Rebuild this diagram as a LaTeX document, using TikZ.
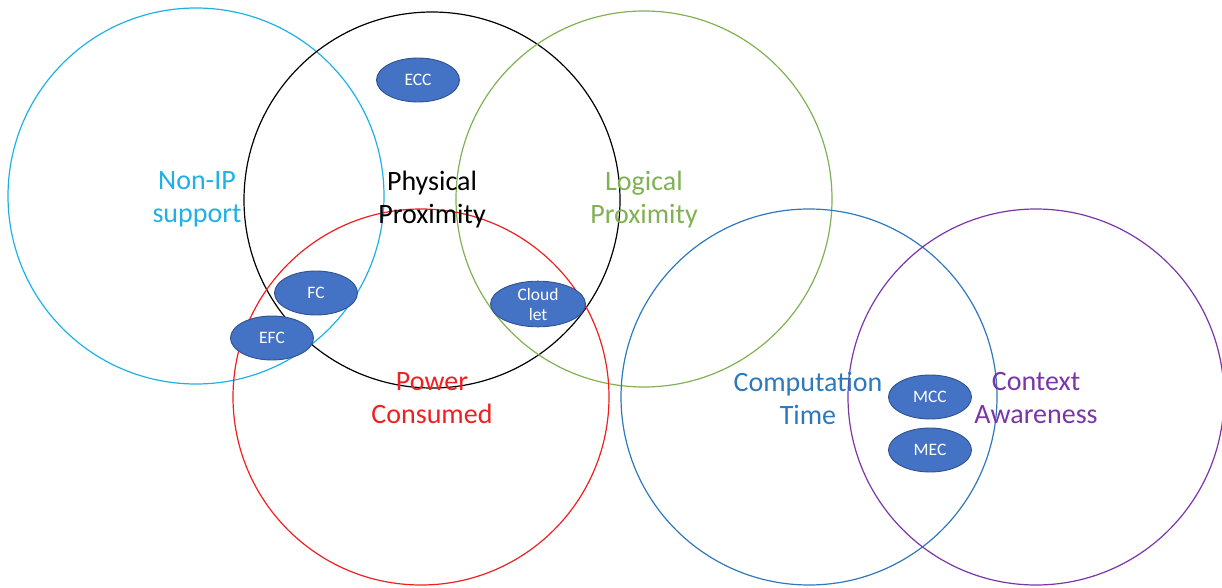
\documentclass[tikz,border=0pt]{standalone}
\usepackage{fontspec}
\setmainfont{Carlito}
\definecolor{cCyan}{HTML}{1EB1E6}
\definecolor{cGreen}{HTML}{80B152}
\definecolor{cRed}{HTML}{F02020}
\definecolor{cBlue}{HTML}{2E78BC}
\definecolor{cPurple}{HTML}{7A35A8}
\definecolor{blobFill}{HTML}{4472C4}
\definecolor{blobEdge}{HTML}{2F528F}
\usetikzlibrary{shapes.geometric}
\begin{document}
\begin{tikzpicture}[x=1pt,y=-1pt,
  ring/.style={circle,draw=#1,line width=1.2pt,minimum size=376pt,inner sep=0pt},
  label/.style={text=#1,align=center,font=\fontsize{28}{33}\selectfont,inner sep=0pt},
  blob/.style={ellipse,fill=blobFill,draw=blobEdge,line width=0.9pt,
    minimum width=83pt,minimum height=44pt,inner sep=0pt,text=white,align=center,
    font=\fontsize{17.5}{20}\selectfont}]
  \useasboundingbox (0,0) rectangle (1222,588);
  % the six overlapping property circles
  \node[ring=cCyan]   (nonip)   at (196,196) {};
  \node[ring=black]   (phys)    at (432,200) {};
  \node[ring=cGreen]  (logic)   at (644,199) {};
  \node[ring=cRed]    (power)   at (421,397) {};
  \node[ring=cBlue]   (comp)    at (809,397) {};
  \node[ring=cPurple] (context) at (1036,397) {};
  % circle captions
  \node[label=cCyan]   (tNonip)   at (197,199) {Non-IP\\support};
  \node[label=black]   (tPhys)    at (432,200) {Physical\\Proximity};
  \node[label=cGreen]  (tLogic)   at (644,200) {Logical\\Proximity};
  \node[label=cRed]    (tPower)   at (432,398) {Power\\Consumed};
  \node[label=cBlue]   (tComp)    at (808,398) {Computation\\Time};
  \node[label=cPurple] (tContext) at (1036,398) {Context\\Awareness};
  % computing paradigms placed in the overlaps
  \node[blob] (ecc)   at (418,80)  {ECC};
  \node[blob] (fc)    at (316,293) {FC};
  \node[blob] (efc)   at (272,338) {EFC};
  \node[blob,minimum width=95pt] (cloud) at (538,304) {Cloud\\let};
  \node[blob] (mcc)   at (930,397) {MCC};
  \node[blob] (mec)   at (930,450) {MEC};
\end{tikzpicture}
\end{document}
